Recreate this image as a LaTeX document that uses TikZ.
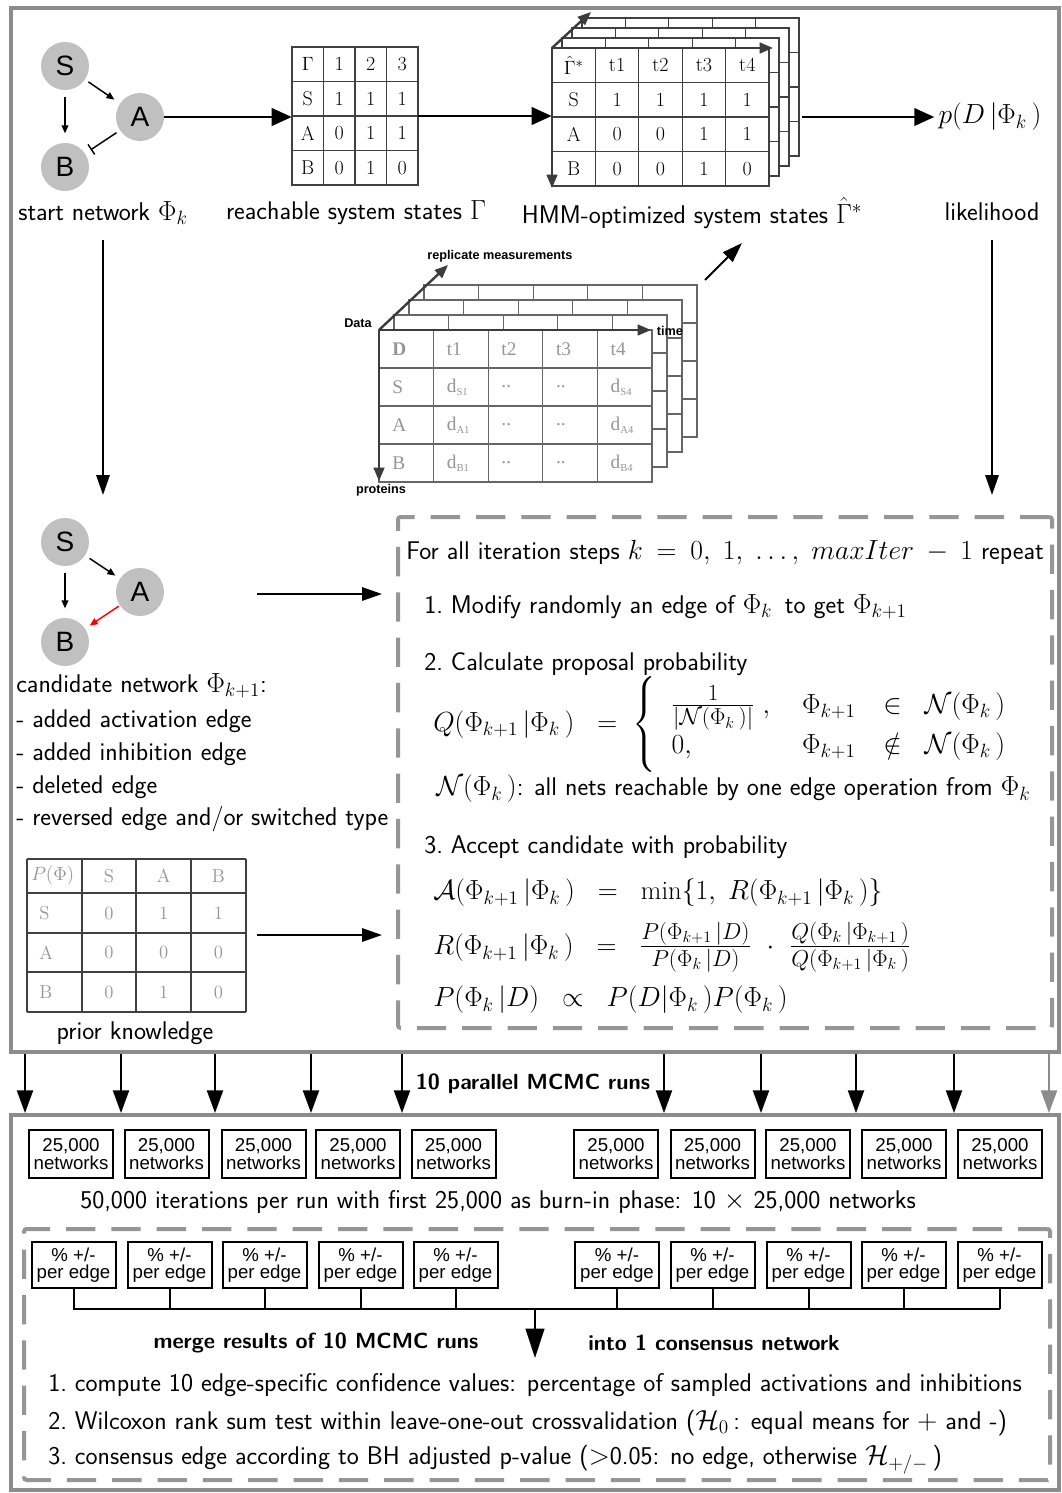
\documentclass[tikz,border=0pt]{standalone}
\usepackage{amsmath,amssymb}
\usepackage{fontspec}
\newfontfamily\arialf{Liberation Sans}
\newfontfamily\timesf{Liberation Serif}
\usetikzlibrary{arrows.meta,fit,calc}
\definecolor{framegray}{RGB}{140,140,140}
\definecolor{dashgray}{RGB}{150,150,150}
\definecolor{nodegray}{RGB}{192,192,192}
\definecolor{txtgray}{RGB}{150,150,150}
\definecolor{axgray}{RGB}{60,60,60}
\newcommand\dsub[1]{d\textsubscript{\fontsize{8}{8}\selectfont #1}}
\newcommand\twodot{..}
\newcommand\m[1]{{\fontsize{20}{24}\selectfont$#1$}}
\newcommand\mb[1]{{\fontsize{23}{26}\selectfont$#1$}}
\newcommand\Pk{\Phi_{k}\,}
\newcommand\Pkk{\Phi_{k+1}\,}
\newcommand\tgrid[7]{% #1 style #2 x0 #3 y0 #4 cw #5 rh #6 ncol #7 nrow
  \pgfmathsetmacro\tgW{#4*#6}\pgfmathsetmacro\tgH{#5*#7}
  \filldraw[#1] (#2,#3) rectangle ++(\tgW,\tgH);
  \foreach \ii in {1,...,#6}{\draw[#1] ({#2+#4*\ii},#3) -- ++(0,\tgH);}
  \foreach \jj in {1,...,#7}{\draw[#1] (#2,{#3+#5*\jj}) -- ++(\tgW,0);}
}
\begin{document}
\begin{tikzpicture}[x=0.75pt,y=-0.75pt,
  txt/.style={font=\sffamily\fontsize{19.2}{23}\selectfont, inner sep=0pt},
  btxt/.style={font=\sffamily\bfseries\fontsize{16.4}{20}\selectfont, inner sep=0pt},
  net/.style={circle, fill=nodegray, minimum size=36pt, inner sep=0pt, font=\arialf\fontsize{21}{21}\selectfont},
  edgea/.style={-{Triangle[length=6pt,width=5pt]}, line width=1.1pt},
  edgeinh/.style={-{Bar[width=9pt]}, line width=1.1pt},
  bigarr/.style={-{Triangle[length=15pt,width=13pt]}, line width=2.2pt},
  midarr/.style={-{Triangle[length=15pt,width=10pt]}, line width=1.5pt},
  downarr/.style={-{Triangle[length=17pt,width=12pt]}, line width=1.6pt},
  axarr/.style={draw=axgray, line width=1.8pt, -{Triangle[length=10pt,width=8pt]}},
  outerframe/.style={draw=framegray, line width=3pt, inner sep=0pt},
  dbox/.style={draw=dashgray, line width=3pt, dash pattern=on 22pt off 12pt, inner sep=0pt, rounded corners=2pt},
  tabl/.style={draw=black!75, line width=0.8pt, fill=white},
  datal/.style={draw=black!60, line width=0.9pt, fill=white},
  tabtxt/.style={font=\fontsize{15}{15}\selectfont, inner sep=0pt},
  datatxt/.style={font=\timesf\fontsize{14.5}{14.5}\selectfont, text=txtgray, inner sep=0pt},
  priortxt/.style={font=\fontsize{14}{14}\selectfont, text=txtgray, inner sep=0pt},
  axlbl/.style={font=\arialf\bfseries\fontsize{9.5}{10}\selectfont, inner sep=0pt},
  boxn/.style={draw, line width=1.5pt, inner sep=0pt, minimum width=63pt, align=center, font=\arialf\fontsize{14}{14}\selectfont}
]
\fill[white] (0,0) rectangle (1062,1493);
\useasboundingbox (0,0) rectangle (1062,1493);

% ---------- frames ----------
\node[outerframe, fit={(11,8) (1059,1052)}] (F1) {};
\node[outerframe, fit={(11,1115) (1059,1490)}] (F2) {};

% ---------- start network ----------
\node[net] (S1) at (65,66) {S};
\node[net] (A1) at (140,117) {A};
\node[net] (B1) at (65,167) {B};
\draw[edgea, shorten <=3pt, shorten >=5pt] (S1) -- (A1);
\draw[edgea, shorten <=5pt, shorten >=7pt] (S1) -- (B1);
\draw[edgeinh, shorten <=3pt, shorten >=5pt] (A1) -- (B1);

% ---------- Gamma table ----------
\tgrid{tabl}{292}{47}{31.5}{34.5}{4}{4}
\node[fit={(292,47) (418,185)}, inner sep=0pt] (G) {};
\foreach \row [count=\r from 0] in {{$\Gamma$,1,2,3},{S,1,1,1},{A,0,1,1},{B,0,1,0}}{
  \foreach \v [count=\c from 0] in \row {
    \node[tabtxt] (g-\r-\c) at ({292+31.5*\c+15.75},{47+34.5*\r+17.25}) {\v};}}

% ---------- HMM table stack ----------
\foreach \o in {30,20,10}{\tgrid{tabl}{552+\o}{48-\o}{43.4}{34.5}{5}{4}}
\tgrid{tabl}{552}{48}{43.4}{34.5}{5}{4}
\node[fit={(552,48) (769,186)}, inner sep=0pt] (H) {};
\foreach \row [count=\r from 0] in {{$\hat{\Gamma}^{*}$,t1,t2,t3,t4},{S,1,1,1,1},{A,0,0,1,1},{B,0,0,1,0}}{
  \foreach \v [count=\c from 0] in \row {
    \node[tabtxt] (h-\r-\c) at ({552+43.4*\c+21.7},{48+34.5*\r+17.25}) {\v};}}
\coordinate (hO) at (552,48);
\coordinate (hX) at (773,48);
\coordinate (hY) at (552,188);
\coordinate (hZ) at (591,12);
\draw[axarr] (hO) -- (hX);
\draw[axarr] (hO) -- (hY);
\draw[axarr] (hO) -- (hZ);

% ---------- likelihood ----------
\node[txt, inner sep=3pt] (pD) at (990,117) {\m{p(D\,|\Pk)}};
\coordinate (hOut) at (802,117);
\draw[bigarr] (A1.east) -- (A1.east -| G.west);
\draw[bigarr] (G.east) -- (G.east -| H.west);
\draw[bigarr] (hOut) -- (hOut -| pD.west);

% ---------- labels row ----------
\node[txt] (l1) at (103,213) {start network \m{\Phi_k}};
\node[txt] (l2) at (356,213) {reachable system states \m{\Gamma}};
\node[txt] (l3) at (692,213) {HMM-optimized system states \m{\hat{\Gamma}^{*}}};
\node[txt] (l4) at (992,212) {likelihood};

% ---------- vertical arrows ----------
\coordinate (v1s) at (103,240); \coordinate (v1e) at (103,495);
\coordinate (v2s) at (992,240); \coordinate (v2e) at (992,495);
\draw[midarr] (v1s) -- (v1e);
\draw[midarr] (v2s) -- (v2e);

% ---------- data stack ----------
\foreach \o in {45,30,15}{\tgrid{datal}{379+\o}{330-\o}{54.6}{38}{5}{4}}
\tgrid{datal}{379}{330}{54.6}{38}{5}{4}
\node[fit={(379,330) (652,482)}, inner sep=0pt] (D) {};
\foreach \row [count=\r from 0] in {{\textbf{D},t1,t2,t3,t4},{S,\dsub{S1},\twodot,\twodot,\dsub{S4}},{A,\dsub{A1},\twodot,\twodot,\dsub{A4}},{B,\dsub{B1},\twodot,\twodot,\dsub{B4}}}{
  \foreach \v [count=\c from 0] in \row {
    \node[datatxt, anchor=west] (d-\r-\c) at ({379+54.6*\c+13},{330+38*\r+19}) {\v};}}
\coordinate (dO) at (379,330);
\coordinate (dX) at (651,330);
\coordinate (dY) at (379,481);
\coordinate (dZ) at (448,265);
\draw[axarr] (dO) -- (dX);
\draw[axarr] (dO) -- (dY);
\draw[axarr] (dO) -- (dZ);
\node[axlbl] (repl) at (500,256) {replicate measurements};
\node[axlbl] (dlab) at (358,323) {Data};
\node[axlbl] (tlab) at (670,331) {time};
\node[axlbl] (plab) at (381,490) {proteins};
\coordinate (dgs) at (705,280); \coordinate (dge) at (742,243);
\draw[midarr] (dgs) -- (dge);

% ---------- candidate network ----------
\node[net] (S2) at (65,542) {S};
\node[net] (A2) at (140,592) {A};
\node[net] (B2) at (65,642) {B};
\draw[edgea, shorten <=4pt, shorten >=4pt] (S2) -- (A2);
\draw[edgea, shorten <=5pt, shorten >=7pt] (S2) -- (B2);
\draw[edgea, red, shorten <=1pt, shorten >=4pt] (A2) -- (B2);
\node[txt, anchor=west] (c0) at (16,686) {candidate network \m{\Phi_{k+1}}:};
\node[txt, anchor=west] (c1) at (16,721) {- added activation edge};
\node[txt, anchor=west] (c2) at (16,754) {- added inhibition edge};
\node[txt, anchor=west] (c3) at (16,787) {- deleted edge};
\node[txt, anchor=west] (c4) at (16,819) {- reversed edge and/or switched type};

% ---------- prior table ----------
\foreach \xx in {27,82,136,191,246}{\draw[black!75, line width=0.8pt] (\xx,859) -- (\xx,1012);}
\foreach \yy in {859,893,933,972,1012}{\draw[black!75, line width=0.8pt] (27,\yy) -- (246,\yy);}
\node[fit={(27,859) (246,1012)}, inner sep=0pt] (PT) {};
\foreach \row/\yc [count=\r from 0] in {{$P(\Phi)$,S,A,B}/876,{S,0,1,1}/913,{A,0,0,0}/952.5,{B,0,1,0}/992}{
  \foreach \v [count=\c from 0] in \row {
    \ifnum\c=0
      \ifnum\r=0
        \node[priortxt, anchor=west] (p-\r-\c) at (31,\yc) {\v};
      \else
        \node[priortxt, anchor=west] (p-\r-\c) at (39,\yc) {\v};
      \fi
    \else
      \node[priortxt] (p-\r-\c) at ({82+54.7*(\c-1)+27},\yc) {\v};
    \fi}}
\node[txt] (prior) at (135,1033) {prior knowledge};

% ---------- algorithm box ----------
\node[dbox, fit={(398,517) (1052,1028)}] (alg) {};
\coordinate (m1s) at (257,594); \coordinate (m1e) at (382,594);
\coordinate (m2s) at (257,935); \coordinate (m2e) at (382,935);
\draw[midarr] (m1s) -- (m1e);
\draw[midarr] (m2s) -- (m2e);
\node[txt, anchor=west] (a0) at (406,553) {For all iteration steps \m{k\:=\:0,\;1,\;\ldots,\;maxIter\:-\:1} repeat};
\node[txt, anchor=west] (a1) at (424,607) {1.\ Modify randomly an edge of \m{\Pk} to get \m{\Pkk}};
\node[txt, anchor=west] (a2) at (424,664) {2.\ Calculate proposal probability};
\node[txt, anchor=base west] (qL) at (433,731) {\m{Q(\Pkk|\Pk)\;\;=}};
\node[txt, anchor=base west] (qB) at ([xshift=11pt]qL.base east) {\m{\smash{\left\{\rule[-30pt]{0pt}{68pt}\right.}}};
\node[txt, anchor=base west] (qR) at ([xshift=10pt]qB.base east) {\m{\begin{array}{@{}l@{\hspace{24pt}}l@{}}\mbox{\mb{\tfrac{1}{|\mathcal{N}(\Pk)|}}}\;, & \Pkk\;\;\in\;\;\mathcal{N}(\Pk)\\[5pt] 0, & \Pkk\;\;\notin\;\;\mathcal{N}(\Pk)\end{array}}};
\node[txt, anchor=west] (a2n) at (436,789) {\m{\mathcal{N}(\Pk)}: all nets reachable by one edge operation from \m{\Pk}};
\node[txt, anchor=west] (a3) at (424,847) {3.\ Accept candidate with probability};
\node[txt, anchor=west] (a3a) at (433,893) {\m{\mathcal{A}(\Pkk|\Pk)\;\;=\;\;\min\{1,\;R(\Pkk|\Pk)\}}};
\node[txt, anchor=west] (a3r) at (433,947) {\m{R(\Pkk|\Pk)\;\;=\;\;\;}\mb{\tfrac{P(\Pkk|D)}{P(\Pk|D)}}\m{\;\;\cdot\;\;}\mb{\tfrac{Q(\Pk|\Pkk)}{Q(\Pkk|\Pk)}}};
\node[txt, anchor=west] (a3p) at (433,1000) {\m{P(\Pk|D)\;\;\propto\;\;P(D|\Pk)P(\Pk)}};

% ---------- parallel runs ----------
\node[btxt] (par) at (533,1084) {10 parallel MCMC runs};
\foreach \xx [count=\i] in {25,121,215,311,402,664,761,856,954}{
  \coordinate (ra\i) at (\xx,1054); \coordinate (rb\i) at (\xx,1113);
  \draw[downarr] (ra\i) -- (rb\i);}
\coordinate (ra10) at (1049,1054); \coordinate (rb10) at (1049,1113);
\draw[downarr, draw=black!45, fill=black!45] (ra10) -- (rb10);

\foreach \xx [count=\i] in {71,166.5,263.5,358,453.5,616,712.5,808,904,1000}{
  \node[boxn, minimum height=36pt] (n\i) at (\xx,1154) {25,000\\[-1pt]networks};}
\node[txt] (it50) at (498,1202) {50,000 iterations per run with first 25,000 as burn-in phase: 10 \m{\times} 25,000 networks};

% ---------- merge box ----------
\node[dbox, fit={(24,1229) (1050,1480)}] (mb) {};
\foreach \xx [count=\i] in {73.5,169.5,264.5,360.5,455.5,617,712.5,808.5,903.5,999.5}{
  \node[boxn, minimum height=34.5pt] (e\i) at (\xx,1265) {\% +/-\\[-1pt]per edge};
  \draw[line width=1.5pt] (e\i.south) -- (\xx,1309);}
\coordinate (busL) at (72.75,1309); \coordinate (busR) at (1000.25,1309);
\draw[line width=1.5pt] (busL) -- (busR);
\coordinate (busM) at (535,1309); \coordinate (mTip) at (535,1358);
\draw[-{Triangle[length=22pt,width=14pt]}, line width=1.5pt] (busM) -- (mTip);
\node[btxt] (mg1) at (316,1343) {merge results of 10 MCMC runs};
\node[btxt] (mg2) at (714,1343) {into 1 consensus network};
\node[txt, anchor=west] (b1) at (48,1385) {1.\ compute 10 edge-specific confidence values: percentage of sampled activations and inhibitions};
\node[txt, anchor=west] (b2) at (48,1423) {2.\ Wilcoxon rank sum test within leave-one-out crossvalidation (\m{\mathcal{H}_0\,}: equal means for \m{+} and -)};
\node[txt, anchor=west] (b3) at (48,1460) {3.\ consensus edge according to BH adjusted p-value (\m{>}0.05: no edge, otherwise \m{\mathcal{H}_{+/-}\,})};
\end{tikzpicture}
\end{document}
